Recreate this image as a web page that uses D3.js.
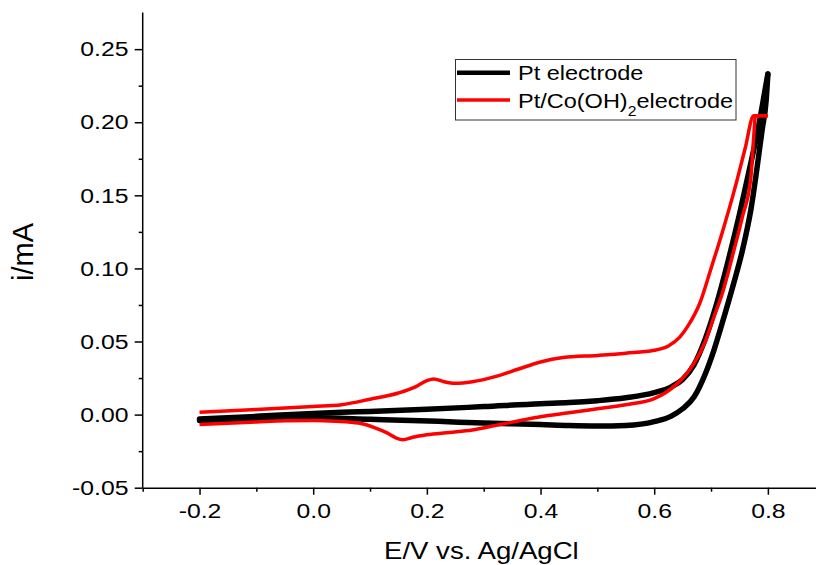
<!DOCTYPE html>
<html><head><meta charset="utf-8">
<script src="https://cdn.jsdelivr.net/npm/d3@7/dist/d3.min.js"></script>
<style>body{margin:0;background:#fff}svg{display:block}</style>
</head><body>
<svg id="c" width="816" height="565"></svg>
<script>
// ---- data ----
const xMajorTicks = [-0.2, 0.0, 0.2, 0.4, 0.6, 0.8];
const xMinorTicks = [-0.3, -0.1, 0.1, 0.3, 0.5, 0.7, 0.9];
const yMajorTicks = [-0.05, 0.00, 0.05, 0.10, 0.15, 0.20, 0.25];
const yMinorTicks = [-0.025, 0.025, 0.075, 0.125, 0.175, 0.225];
const xTickLabels = ["-0.2", "0.0", "0.2", "0.4", "0.6", "0.8"];
const yTickLabels = ["-0.05", "0.00", "0.05", "0.10", "0.15", "0.20", "0.25"];
const xTitle = "E/V vs. Ag/AgCl";
const yTitle = "i/mA";

// Pt electrode: anodic (upper) and cathodic (lower) branches [E, i]
const ptAnodic = [[-0.2,-0.003],[-0.1,-0.0012],[0.0,0.0008],[0.05,0.0016],[0.1,0.0022],[0.2,0.0036],
  [0.3,0.0055],[0.4,0.0075],[0.45,0.0082],[0.5,0.0095],[0.55,0.0115],[0.6,0.015],[0.63,0.019],
  [0.65,0.024],[0.67,0.034],[0.69,0.052],[0.71,0.076],[0.73,0.105],[0.75,0.137],[0.77,0.172],
  [0.785,0.2],[0.795,0.222],[0.8,0.233]];
const ptCathodic = [[0.8,0.233],[0.797,0.215],[0.79,0.195],[0.77,0.14],[0.755,0.112],[0.74,0.09],
  [0.72,0.063],[0.705,0.044],[0.69,0.028],[0.67,0.012],[0.65,0.004],[0.63,-0.001],[0.6,-0.0048],
  [0.55,-0.0074],[0.5,-0.0078],[0.45,-0.0075],[0.4,-0.0068],[0.3,-0.0058],[0.22,-0.0046],
  [0.1,-0.0032],[0.0,-0.0022],[-0.1,-0.003],[-0.2,-0.004]];

// Pt/Co(OH)2 electrode
const coAnodic = [[-0.2,0.0016],[-0.1,0.0035],[0.0,0.0056],[0.05,0.0068],[0.1,0.0105],[0.15,0.0148],
  [0.18,0.019],[0.2,0.0232],[0.212,0.0244],[0.23,0.0225],[0.25,0.0214],[0.28,0.0225],[0.32,0.026],
  [0.36,0.031],[0.4,0.036],[0.44,0.039],[0.5,0.0405],[0.55,0.042],[0.6,0.044],[0.625,0.047],
  [0.645,0.053],[0.66,0.061],[0.68,0.076],[0.7,0.1],[0.72,0.125],[0.74,0.152],[0.76,0.182],
  [0.775,0.2045],[0.8,0.2045]];
const coCathodic = [[0.8,0.2045],[0.778,0.2045],[0.776,0.195],[0.77,0.162],[0.755,0.135],[0.74,0.112],
  [0.72,0.083],[0.705,0.0666],[0.69,0.05],[0.67,0.035],[0.655,0.027],[0.64,0.021],[0.62,0.015],
  [0.6,0.011],[0.55,0.0068],[0.5,0.004],[0.45,0.0012],[0.4,-0.0014],[0.365,-0.004],[0.32,-0.0075],
  [0.28,-0.0105],[0.24,-0.0122],[0.2,-0.0138],[0.175,-0.0155],[0.158,-0.0172],[0.145,-0.0158],
  [0.13,-0.0125],[0.11,-0.0092],[0.08,-0.0058],[0.04,-0.0045],[0.0,-0.004],[-0.05,-0.0042],
  [-0.1,-0.005],[-0.2,-0.0068]];

const seriesNames = ["Pt electrode", "Pt/Co(OH)", "2", "electrode"];
const seriesColors = ["#000000", "#ff0000"];

// ---- drawing ----
const svg = d3.select("#c");
const FONT = "'Liberation Sans', Arial, Helvetica, sans-serif";
const x = d3.scaleLinear().domain([-0.3, 0.9]).range([142.7, 824.7]);
const y = d3.scaleLinear().domain([-0.05, 0.275]).range([487.7, 12.6]);

// axes
const gx = svg.append("g").attr("transform", `translate(0,${y(-0.05)})`)
  .call(d3.axisBottom(x).tickValues(xMajorTicks).tickSize(7).tickPadding(8).tickSizeOuter(0)
    .tickFormat((d, i) => xTickLabels[i]));
const gxm = svg.append("g").attr("transform", `translate(0,${y(-0.05)})`)
  .call(d3.axisBottom(x).tickValues(xMinorTicks).tickSize(4).tickFormat(""));
gxm.select(".domain").remove();
const gy = svg.append("g").attr("transform", `translate(${x(-0.3)},0)`)
  .call(d3.axisLeft(y).tickValues(yMajorTicks).tickSize(8).tickPadding(4).tickSizeOuter(0)
    .tickFormat((d, i) => yTickLabels[i]));
const gym = svg.append("g").attr("transform", `translate(${x(-0.3)},0)`)
  .call(d3.axisLeft(y).tickValues(yMinorTicks).tickSize(4).tickFormat(""));
gym.select(".domain").remove();
gy.select(".domain").attr("d", `M0,${y(0.275)}V${y(-0.05)}`);

svg.selectAll(".domain, .tick line").attr("stroke", "#000").attr("stroke-width", 1.5);
svg.selectAll(".tick text").attr("font-family", FONT).attr("font-size", 21).attr("fill", "#000")
  .attr("transform", "scale(1.18,1)");

// titles
svg.append("text").attr("transform", `translate(${(x(-0.3) + 820) / 2},559) scale(1.2,1)`)
  .attr("text-anchor", "middle").attr("font-family", FONT).attr("font-size", 23).text(xTitle);
svg.append("text").attr("transform", `translate(33,252) rotate(-90)`)
  .attr("text-anchor", "middle").attr("font-family", FONT).attr("font-size", 29).text(yTitle);

// curves: each sweep branch drawn as a monotone-in-E path
const line = d3.line().x(d => x(d[0])).y(d => y(d[1])).curve(d3.curveMonotoneX);
const asc = arr => arr.slice().sort((a, b) => a[0] - b[0]);
function branch(data, color, w, cap) {
  svg.append("path").datum(asc(data)).attr("d", line).attr("fill", "none")
    .attr("stroke", color).attr("stroke-width", w)
    .attr("stroke-linejoin", "round").attr("stroke-linecap", cap);
}
branch(ptAnodic, seriesColors[0], 5.5, "round");
branch(ptCathodic, seriesColors[0], 5.5, "round");
branch(coAnodic, seriesColors[1], 3.5, "butt");
branch(coCathodic, seriesColors[1], 3.5, "butt");

// legend
const lg = svg.append("g");
lg.append("rect").attr("x", 455.5).attr("y", 59.5).attr("width", 280.5).attr("height", 60.5)
  .attr("fill", "#fff").attr("stroke", "#333").attr("stroke-width", 1);
lg.append("line").attr("x1", 457).attr("x2", 510).attr("y1", 72.7).attr("y2", 72.7)
  .attr("stroke", seriesColors[0]).attr("stroke-width", 4.5);
lg.append("line").attr("x1", 457).attr("x2", 510).attr("y1", 100).attr("y2", 100)
  .attr("stroke", seriesColors[1]).attr("stroke-width", 3.5);
lg.append("text").attr("transform", "translate(518,80) scale(1.12,1)")
  .attr("font-family", FONT).attr("font-size", 21).text(seriesNames[0]);
const t2 = lg.append("text").attr("transform", "translate(518,108) scale(1.12,1)")
  .attr("font-family", FONT).attr("font-size", 21);
t2.append("tspan").text(seriesNames[1]);
t2.append("tspan").attr("font-size", 14).attr("dy", 8).text(seriesNames[2]);
t2.append("tspan").attr("dy", -8).text(seriesNames[3]);
</script>
</body></html>
